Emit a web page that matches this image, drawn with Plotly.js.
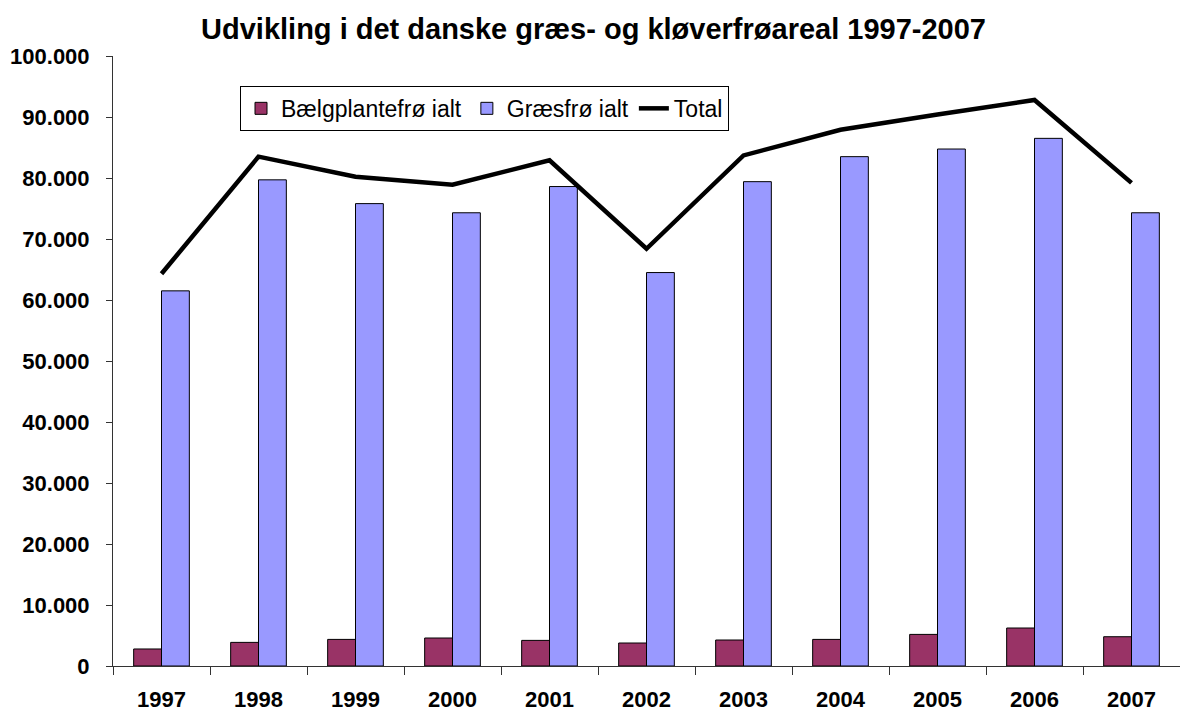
<!DOCTYPE html>
<html>
<head>
<meta charset="utf-8">
<script src="https://cdn.plot.ly/plotly-3.0.1.min.js"></script>
<style>
  html, body { margin: 0; padding: 0; background: #fff; }
  #plot { width: 1180px; height: 713px; }
</style>
</head>
<body>
<div id="plot"></div>
<script>
// Data (hectares)
const years = ['1997', '1998', '1999', '2000', '2001', '2002', '2003', '2004', '2005', '2006', '2007'];
const baelgplante = [2790, 3870, 4360, 4590, 4200, 3770, 4260, 4360, 5180, 6230, 4800];
const graesfroe = [61500, 79700, 75800, 74300, 78600, 64500, 79400, 83500, 84750, 86500, 74300];
const total = [64300, 83500, 80200, 78900, 82900, 68400, 83700, 87900, 90400, 92800, 79200];

const yTicks = [0, 10000, 20000, 30000, 40000, 50000, 60000, 70000, 80000, 90000, 100000];

const font = 'Arial, "Liberation Sans", sans-serif';

const traceBaelg = {
    type: 'bar',
    x: years,
    y: baelgplante,
    name: 'Bælgplantefrø ialt',
    marker: { color: '#993366', line: { color: '#000000', width: 1 } }
};

const traceGraes = {
    type: 'bar',
    x: years,
    y: graesfroe,
    name: 'Græsfrø ialt',
    marker: { color: '#9999FF', line: { color: '#000000', width: 1 } }
};

const traceTotal = {
    type: 'scatter',
    mode: 'lines',
    x: years,
    y: total,
    name: 'Total',
    line: { color: '#000000', width: 4.5 }
};

const layout = {
    width: 1180,
    height: 713,
    margin: { l: 113, r: 0, t: 56, b: 47 },
    paper_bgcolor: '#ffffff',
    plot_bgcolor: '#ffffff',
    separators: ',.',
    font: { family: font, color: '#000000' },
    title: {
        text: '<b>Udvikling i det danske græs- og kløverfrøareal 1997-2007</b>',
        font: { family: font, size: 29, color: '#000000' },
        x: 0.503,
        xref: 'container',
        y: 0.96,
        yref: 'container',
        yanchor: 'middle'
    },
    barmode: 'group',
    bargap: 0.426,
    bargroupgap: 0,
    showlegend: true,
    legend: {
        orientation: 'h',
        x: 0.0,
        xref: 'paper',
        y: 0.951,
        xanchor: 'left',
        yanchor: 'top',
        bordercolor: '#000000',
        borderwidth: 1,
        bgcolor: '#ffffff',
        font: { family: font, size: 23, color: '#000000' },
        traceorder: 'normal'
    },
    xaxis: {
        type: 'category',
        showline: true,
        linecolor: '#333333',
        linewidth: 1,
        ticks: 'outside',
        tickson: 'boundaries',
        ticklen: 8,
        tickcolor: '#333333',
        ticklabelstandoff: 14,
        tickfont: { family: font, size: 22, color: '#000000', weight: 'bold' },
        showgrid: false,
        zeroline: false,
        fixedrange: true
    },
    yaxis: {
        range: [0, 100000],
        tickvals: yTicks,
        tickformat: ',d',
        showline: true,
        linecolor: '#333333',
        linewidth: 1,
        ticks: 'outside',
        ticklen: 6,
        tickcolor: '#333333',
        ticklabelstandoff: 12,
        tickfont: { family: font, size: 22, color: '#000000', weight: 'bold' },
        showgrid: false,
        zeroline: false,
        fixedrange: true
    }
};

// Position legend left edge at ~240px of the page
layout.legend.x = (240 - layout.margin.l) / (1180 - layout.margin.l - layout.margin.r);

Plotly.newPlot('plot', [traceBaelg, traceGraes, traceTotal], layout, { displayModeBar: false, staticPlot: true });
</script>
</body>
</html>
